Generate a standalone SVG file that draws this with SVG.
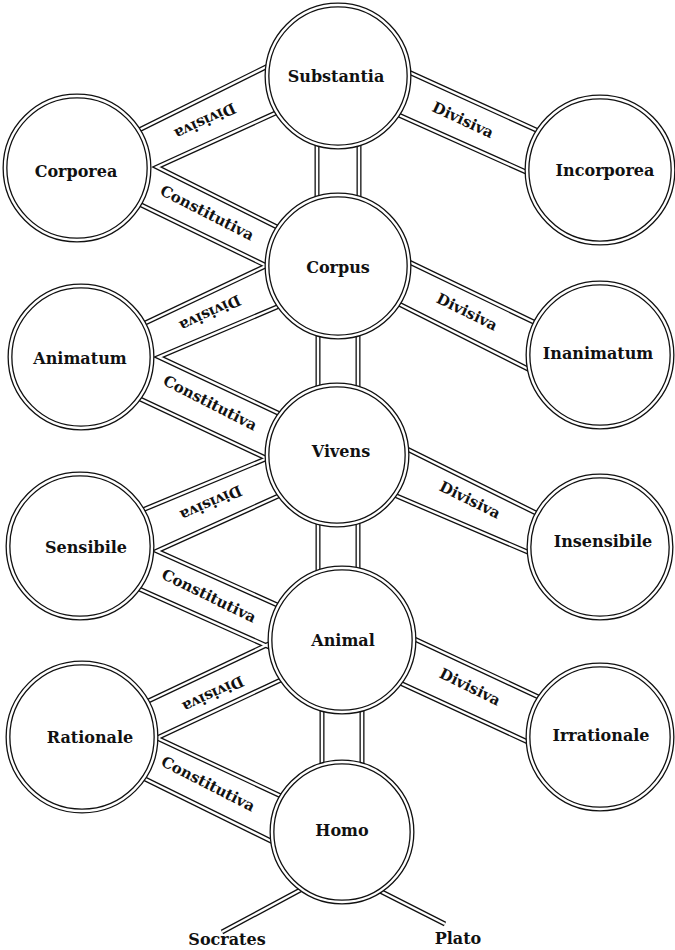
<svg xmlns="http://www.w3.org/2000/svg" xmlns:xlink="http://www.w3.org/1999/xlink" width="675" height="950" viewBox="0 0 675 950">
<style>
  .outer { stroke: #111; stroke-width: 5; fill: none; stroke-linejoin: miter; }
  .inner { stroke: #fff; stroke-width: 2.4; fill: none; stroke-linejoin: miter; }
  .ring { fill: #fff; stroke: #111; stroke-width: 5; }
  .gap { fill: none; stroke: #fff; stroke-width: 2.4; }
  text { font-family: "DejaVu Serif", "Liberation Serif", serif; font-weight: bold; fill: #111; text-anchor: middle; dominant-baseline: central; }
  .node { font-size: 16px; }
  .lbl { font-size: 15px; }
</style>
<defs>
  <!-- vertical links -->
  <path id="v1" d="M317,100 V240 M359,100 V240"/>
  <path id="v2" d="M318,290 V430 M358,290 V430"/>
  <path id="v3" d="M318,480 V610 M358,480 V610"/>
  <path id="v4" d="M322,660 V810 M362,660 V810"/>
  <!-- Corporea -->
  <path id="a1" d="M137,131 L272,64"/>
  <path id="a2" d="M280,111 L157,167 L283,230"/>
  <path id="a3" d="M133,201 L275,270"/>
  <!-- Substantia - Incorporea -->
  <path id="b1" d="M402,69 L545,134 M392,112 L535,176"/>
  <!-- Animatum -->
  <path id="c1" d="M141,325 L272,263"/>
  <path id="c2" d="M284,304 L159,357 L280,414"/>
  <path id="c3" d="M138,398 L272,461"/>
  <!-- Corpus - Inanimatum -->
  <path id="d1" d="M405,260 L542,326 M395,302 L532,371"/>
  <!-- Sensibile -->
  <path id="e1" d="M140,511 L275,455"/>
  <path id="e2" d="M285,493 L157,551 L284,608"/>
  <path id="e3" d="M137,588 L276,650"/>
  <!-- Vivens - Insensibile -->
  <path id="f1" d="M403,447 L538,514 M392,494 L530,553"/>
  <!-- Rationale -->
  <path id="g1" d="M142,704 L275,641"/>
  <path id="g2" d="M285,678 L157,738 L283,797"/>
  <path id="g3" d="M137,775 L275,843"/>
  <!-- Animal - Irrationale -->
  <path id="h1" d="M408,636 L547,701 M398,682 L530,743"/>
  <!-- Homo - individuals -->
  <path id="i1" d="M304,888 L222,932 M378,890 L445,924"/>
</defs>

<g id="connectors">
  <g class="outer">
    <use xlink:href="#v1"/><use xlink:href="#v2"/><use xlink:href="#v3"/><use xlink:href="#v4"/>
    <use xlink:href="#a1"/><use xlink:href="#a2"/><use xlink:href="#a3"/><use xlink:href="#b1"/>
    <use xlink:href="#c1"/><use xlink:href="#c2"/><use xlink:href="#c3"/><use xlink:href="#d1"/>
    <use xlink:href="#e1"/><use xlink:href="#e2"/><use xlink:href="#e3"/><use xlink:href="#f1"/>
    <use xlink:href="#g1"/><use xlink:href="#g2"/><use xlink:href="#g3"/><use xlink:href="#h1"/>
    <use xlink:href="#i1"/>
  </g>
  <g class="inner">
    <use xlink:href="#v1"/><use xlink:href="#v2"/><use xlink:href="#v3"/><use xlink:href="#v4"/>
    <use xlink:href="#a1"/><use xlink:href="#a2"/><use xlink:href="#a3"/><use xlink:href="#b1"/>
    <use xlink:href="#c1"/><use xlink:href="#c2"/><use xlink:href="#c3"/><use xlink:href="#d1"/>
    <use xlink:href="#e1"/><use xlink:href="#e2"/><use xlink:href="#e3"/><use xlink:href="#f1"/>
    <use xlink:href="#g1"/><use xlink:href="#g2"/><use xlink:href="#g3"/><use xlink:href="#h1"/>
    <use xlink:href="#i1"/>
  </g>
  <!-- connector labels -->
  <text class="lbl" transform="translate(205,121) rotate(155)">Divisiva</text>
  <text class="lbl" transform="translate(463,120) rotate(25)">Divisiva</text>
  <text class="lbl" transform="translate(207,213) rotate(27)">Constitutiva</text>
  <text class="lbl" transform="translate(210,313) rotate(155)">Divisiva</text>
  <text class="lbl" transform="translate(467,312) rotate(26)">Divisiva</text>
  <text class="lbl" transform="translate(210,403) rotate(27)">Constitutiva</text>
  <text class="lbl" transform="translate(211,503) rotate(156)">Divisiva</text>
  <text class="lbl" transform="translate(470,500) rotate(26)">Divisiva</text>
  <text class="lbl" transform="translate(209,596) rotate(26)">Constitutiva</text>
  <text class="lbl" transform="translate(213,694) rotate(155)">Divisiva</text>
  <text class="lbl" transform="translate(470,687) rotate(26)">Divisiva</text>
  <text class="lbl" transform="translate(208,784) rotate(27)">Constitutiva</text>
</g>

<g id="substantia"><circle class="ring" cx="338" cy="76" r="71"/><circle class="gap" cx="338" cy="76" r="71"/><text class="node" x="336" y="76">Substantia</text></g>
<g id="corporea"><circle class="ring" cx="77" cy="168" r="72"/><circle class="gap" cx="77" cy="168" r="72"/><text class="node" x="76" y="171">Corporea</text></g>
<g id="incorporea"><circle class="ring" cx="600" cy="170" r="73"/><circle class="gap" cx="600" cy="170" r="73"/><text class="node" x="605" y="170">Incorporea</text></g>
<g id="corpus"><circle class="ring" cx="338" cy="266" r="71"/><circle class="gap" cx="338" cy="266" r="71"/><text class="node" x="338" y="267">Corpus</text></g>
<g id="animatum"><circle class="ring" cx="81" cy="357" r="71"/><circle class="gap" cx="81" cy="357" r="71"/><text class="node" x="80" y="358">Animatum</text></g>
<g id="inanimatum"><circle class="ring" cx="600" cy="355" r="72"/><circle class="gap" cx="600" cy="355" r="72"/><text class="node" x="598" y="353">Inanimatum</text></g>
<g id="vivens"><circle class="ring" cx="337" cy="455" r="70"/><circle class="gap" cx="337" cy="455" r="70"/><text class="node" x="341" y="451">Vivens</text></g>
<g id="sensibile"><circle class="ring" cx="80" cy="546" r="72"/><circle class="gap" cx="80" cy="546" r="72"/><text class="node" x="86" y="547">Sensibile</text></g>
<g id="insensibile"><circle class="ring" cx="600" cy="547" r="71"/><circle class="gap" cx="600" cy="547" r="71"/><text class="node" x="603" y="541">Insensibile</text></g>
<g id="animal"><circle class="ring" cx="342" cy="640" r="72"/><circle class="gap" cx="342" cy="640" r="72"/><text class="node" x="343" y="640">Animal</text></g>
<g id="rationale"><circle class="ring" cx="82" cy="737" r="74"/><circle class="gap" cx="82" cy="737" r="74"/><text class="node" x="90" y="737">Rationale</text></g>
<g id="irrationale"><circle class="ring" cx="600" cy="737" r="72"/><circle class="gap" cx="600" cy="737" r="72"/><text class="node" x="601" y="735">Irrationale</text></g>
<g id="homo"><circle class="ring" cx="342" cy="832" r="70"/><circle class="gap" cx="342" cy="832" r="70"/><text class="node" x="342" y="830">Homo</text></g>
<g id="socrates"><text class="node" x="227" y="939">Socrates</text></g>
<g id="plato"><text class="node" x="458" y="938">Plato</text></g>
</svg>
